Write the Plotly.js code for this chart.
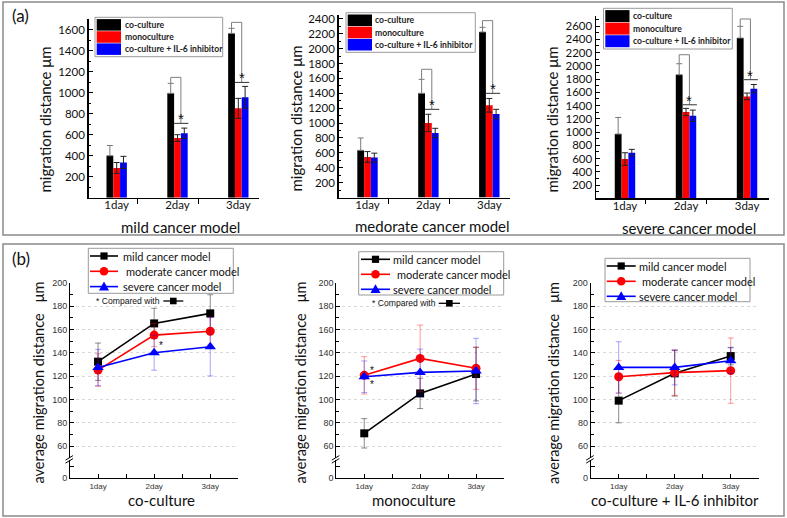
<!DOCTYPE html>
<html><head><meta charset="utf-8">
<script src="https://cdn.plot.ly/plotly-3.0.1.min.js"></script>
<style>html,body{margin:0;padding:0;background:#fff}#chart{width:787px;height:518px}</style>
</head><body><div id="chart"></div>
<script>
// ---------- data ----------
const categories = ['1day', '2day', '3day'];
const barSeries = ['co-culture', 'monoculture', 'co-culture + IL-6 inhibitor'];
const barModels = ['mild cancer model', 'medorate cancer model', 'severe cancer model'];
const lineSeries = ['mild cancer model', 'moderate cancer model', 'severe cancer model'];
const lineConditions = ['co-culture', 'monoculture', 'co-culture + IL-6 inhibitor'];

// (a) migration distance (um), mean and error
const mildCo = [400, 994, 1565];    const mildCoErr = [97, 95, 48];
const mildMono = [283, 568, 851];   const mildMonoErr = [52, 32, 95];
const mildIL6 = [336, 613, 956];    const mildIL6Err = [58, 50, 104];
const modCo = [634, 1400, 2224];    const modCoErr = [166, 188, 63];
const modMono = [545, 1002, 1239];  const modMonoErr = [72, 117, 92];
const modIL6 = [536, 867, 1122];    const modIL6Err = [60, 63, 63];
const sevCo = [970, 1865, 2419];    const sevCoErr = [250, 166, 176];
const sevMono = [592, 1302, 1538];  const sevMonoErr = [95, 55, 50];
const sevIL6 = [688, 1246, 1654];   const sevIL6Err = [50, 85, 63];

// significance brackets (2day, 3day): bracket top and the line over the compared bars
const mildBracketTop = [1146, 1670]; const mildSigLine = [708, 1098];
const modBracketTop = [1723, 2377];  const modSigLine = [1185, 1400];
const sevBracketTop = [2167, 2706];  const sevSigLine = [1411, 1790];

// y tick labels of (a)
const mildTicks = [200, 400, 600, 800, 1000, 1200, 1400, 1600];
const modTicks = [200, 400, 600, 800, 1000, 1200, 1400, 1600, 1800, 2000, 2200, 2400];
const sevTicks = [200, 400, 600, 800, 1000, 1200, 1400, 1600, 1800, 2000, 2200, 2400, 2600];

// (b) average migration distance (um), mean and error
const coMild = [132.3, 165.1, 173.7];   const coMildErr = [16, 13, 16];
const coMod = [125.1, 155.1, 158.4];    const coModErr = [14, 10, 12];
const coSev = [127.4, 140.0, 145.1];    const coSevErr = [15.5, 15, 25];
const monoMild = [70.9, 105.1, 121.7];  const monoMildErr = [12.6, 13, 23];
const monoMod = [120.6, 135.1, 126.6];  const monoModErr = [16, 28.6, 18];
const monoSev = [119.4, 123.1, 124.3];  const monoSevErr = [13.5, 20, 28];
const il6Mild = [98.9, 122.3, 137.1];   const il6MildErr = [19, 19.5, 7.5];
const il6Mod = [119.4, 122.9, 124.6];   const il6ModErr = [14, 19.5, 28];
const il6Sev = [127.4, 127.4, 133.1];   const il6SevErr = [22, 15, 11];

const bTicks = [60, 80, 100, 120, 140, 160, 180, 200];
const bLowTicks = [0, 10];
const bLowTickText = ['0', ''];

// ---------- helpers ----------
const W = 787, H = 518;
const X = v => v / W;
const Y = v => 1 - v / H;
const catIdx = categories.map((c, i) => i);

const barColors = ['#000000', '#ff0000', '#0000ff'];
const barErrColors = ['#7a7a7a', '#222222', '#222222'];
const lineColors = ['#000000', '#ff0000', '#0000ff'];
const lineErrColors = ['rgba(0,0,0,0.45)', 'rgba(255,0,0,0.4)', 'rgba(0,0,255,0.35)'];
const lineSymbols = ['square', 'circle', 'triangle-up'];
const lineSizes = [8, 9, 10];

const barData = [
  {vals: [mildCo, mildMono, mildIL6], errs: [mildCoErr, mildMonoErr, mildIL6Err], top: mildBracketTop, sig: mildSigLine, ticks: mildTicks},
  {vals: [modCo, modMono, modIL6], errs: [modCoErr, modMonoErr, modIL6Err], top: modBracketTop, sig: modSigLine, ticks: modTicks},
  {vals: [sevCo, sevMono, sevIL6], errs: [sevCoErr, sevMonoErr, sevIL6Err], top: sevBracketTop, sig: sevSigLine, ticks: sevTicks}
];
const lineData = [
  {vals: [coMild, coMod, coSev], errs: [coMildErr, coModErr, coSevErr]},
  {vals: [monoMild, monoMod, monoSev], errs: [monoMildErr, monoModErr, monoSevErr]},
  {vals: [il6Mild, il6Mod, il6Sev], errs: [il6MildErr, il6ModErr, il6SevErr]}
];

// ---------- layout geometry (pixels) ----------
const aPos = [
  {x0: 88.7, x1: 258.7, yb: 197.7, yt: 19.2, xr: [-0.46, 2.335], yr: [0, 1700], yt_: [44, 119.5], xt_: [180, 227],
   leg: {x0: 95, x1: 222.7, y0: 17.3, y1: 56.7, sw0: 96.7, sw1: 121, tx: 122.7}},
  {x0: 338.7, x1: 510, yb: 197.5, yt: 15.2, xr: [-0.473, 2.34], yr: [0, 2450], yt_: [295.5, 119], xt_: [432, 226],
   leg: {x0: 346, x1: 475.3, y0: 12.7, y1: 52.3, sw0: 347.7, sw1: 372, tx: 373.3}},
  {x0: 596, x1: 769, yb: 198.25, yt: 16.1, xr: [-0.475, 2.36], yr: [0, 2750], yt_: [551.5, 120], xt_: [689, 227.7],
   leg: {x0: 603.5, x1: 732.3, y0: 8.3, y1: 49, sw0: 605.3, sw1: 629.5, tx: 631}}
];
const aSepTicks = [0.34, 1.34];
const bPos = [
  {x0: 70, x1: 238.3, yt_: [37.5, 383], xt_: [161.7, 500],
   leg: {x0: 88.3, x1: 233.3, y0: 248.3, y1: 293.3, rows: [256, 271.3, 286.6], l0: 90, l1: 118, tx: 120.7},
   cmp: {tx: 94, ty: 301, l0: 163.3, l1: 183.3}},
  {x0: 336.3, x1: 504, yt_: [299.5, 383], xt_: [414, 500],
   leg: {x0: 358.7, x1: 503.7, y0: 251.7, y1: 295, rows: [259.3, 274.3, 289.3], l0: 361, l1: 390, tx: 391},
   cmp: {tx: 370, ty: 303.3, l0: 438.7, l1: 460}},
  {x0: 590.7, x1: 758.7, yt_: [553, 383], xt_: [675, 500],
   leg: {x0: 605, x1: 750, y0: 258.3, y1: 301.7, rows: [266, 281.3, 296.3], l0: 606.7, l1: 635.7, tx: 636.7},
   cmp: null}
];
const bMainTop = 282.7, bMainBot = 457.7, bLowTop = 459.5, bLowBot = 478.3;

const layout = {
  width: W, height: H,
  margin: {l: 0, r: 0, t: 0, b: 0, autoexpand: false},
  paper_bgcolor: '#ffffff', plot_bgcolor: 'rgba(0,0,0,0)',
  showlegend: false, barmode: 'group', bargap: 0.665, bargroupgap: 0,
  font: {family: 'Lato, sans-serif', color: '#111'},
  shapes: [], annotations: []
};
const traces = [];
const bw = (1 - layout.bargap) / 3;

function ann(px, py, text, size, opts) {
  layout.annotations.push(Object.assign({xref: 'paper', yref: 'paper', x: X(px), y: Y(py), text: text,
    showarrow: false, xanchor: 'center', yanchor: 'middle', font: {size: size, color: '#111', family: 'Lato, sans-serif'}}, opts || {}));
}
function rectPx(x0, y0, x1, y1, style) {
  layout.shapes.push(Object.assign({type: 'rect', xref: 'paper', yref: 'paper', x0: X(x0), x1: X(x1), y0: Y(y1), y1: Y(y0), layer: 'above'}, style));
}
function linePx(x0, y0, x1, y1, color, width) {
  layout.shapes.push({type: 'line', xref: 'paper', yref: 'paper', x0: X(x0), x1: X(x1), y0: Y(y0), y1: Y(y1), layer: 'above', line: {color: color, width: width}});
}

// frames
rectPx(3, 2, 784, 235, {line: {color: '#8a8a8a', width: 1.5}, fillcolor: 'rgba(0,0,0,0)', layer: 'below'});
rectPx(3, 244, 784, 516, {line: {color: '#8a8a8a', width: 1.5}, fillcolor: 'rgba(0,0,0,0)', layer: 'below'});
ann(20, 15, '(a)', 17);
ann(21, 258, '(b)', 17);

// ---------- (a) bar panels ----------
barData.forEach((d, k) => {
  const p = aPos[k];
  const s = k === 0 ? '' : String(k + 1);
  const xa = 'x' + s, ya = 'y' + s;
  const xo = 'x' + (k + 10);
  for (let i = 0; i < 3; i++) {
    const err = i === 0
      ? {type: 'data', symmetric: false, array: d.errs[i], arrayminus: d.errs[i].map(() => 0), color: barErrColors[i], thickness: 1, width: 3}
      : {type: 'data', array: d.errs[i], color: barErrColors[i], thickness: 1, width: 3};
    traces.push({type: 'bar', name: barSeries[i], x: catIdx, y: d.vals[i], xaxis: xa, yaxis: ya,
      marker: {color: barColors[i], line: {width: 0}}, error_y: err, showlegend: false});
  }
  // empty helper trace so the tick-only overlay axis is drawn
  traces.push({type: 'scatter', x: [], y: [], xaxis: xo, yaxis: ya, showlegend: false, hoverinfo: 'skip'});
  layout['xaxis' + s] = {domain: [X(p.x0), X(p.x1)], range: p.xr, anchor: ya, showline: true, linecolor: '#000', linewidth: 1.5,
    tickmode: 'array', tickvals: catIdx, ticktext: categories, ticks: '', ticklabelstandoff: -4, showgrid: false, zeroline: false,
    tickfont: {family: 'Lato, sans-serif', size: 11.5, color: '#111'}, fixedrange: true};
  layout['xaxis' + (k + 10)] = {domain: [X(p.x0), X(p.x1)], range: p.xr, anchor: ya, overlaying: xa, showline: false,
    tickmode: 'array', tickvals: aSepTicks, showticklabels: false, ticks: 'outside', ticklen: 5, tickwidth: 1, tickcolor: '#000',
    showgrid: false, zeroline: false, fixedrange: true};
  layout['yaxis' + s] = {domain: [Y(p.yb), Y(p.yt)], range: p.yr, anchor: xa, showline: true, linecolor: '#000', linewidth: 1.5,
    tickmode: 'array', tickvals: d.ticks, ticks: 'inside', ticklen: 4, tickwidth: 1, tickcolor: '#000',
    minor: {tickmode: 'linear', tick0: 0, dtick: 100, ticks: 'inside', ticklen: 2.5, tickwidth: 1, tickcolor: '#000'},
    showgrid: false, zeroline: false, tickfont: {family: 'Lato, sans-serif', size: 11.5, color: '#111'}, fixedrange: true};
  // brackets and significance stars
  for (let j = 0; j < 2; j++) {
    const cat = j + 1;
    const xl = cat - bw, xr = cat + bw / 2;
    const lb = d.vals[0][cat] + d.errs[0][cat];
    layout.shapes.push({type: 'path', xref: xa, yref: ya, layer: 'above',
      path: `M${xl},${lb} L${xl},${d.top[j]} L${xr},${d.top[j]} L${xr},${d.sig[j]}`,
      line: {color: '#7f7f7f', width: 1}});
    layout.shapes.push({type: 'line', xref: xa, yref: ya, layer: 'above', x0: cat - bw * 0.5, x1: cat + bw * 1.6,
      y0: d.sig[j], y1: d.sig[j], line: {color: '#333', width: 1}});
    layout.annotations.push({xref: xa, yref: ya, x: xr, y: d.sig[j], text: '*', showarrow: false,
      yanchor: 'bottom', yshift: -6, font: {size: 15, family: 'Liberation Sans, Arial', color: '#111'}});
  }
  // titles
  ann(p.yt_[0], p.yt_[1], 'migration distance μm', 15, {textangle: -90});
  ann(p.xt_[0], p.xt_[1], barModels[k], 15);
  // legend box
  const L = p.leg;
  rectPx(L.x0, L.y0, L.x1, L.y1, {line: {color: '#9a9a9a', width: 1}, fillcolor: '#ffffff'});
  const rh = (L.y1 - L.y0 - 3) / 3;
  for (let i = 0; i < 3; i++) {
    const r0 = L.y0 + 1.5 + i * rh;
    rectPx(L.sw0, r0 + 0.3, L.sw1, r0 + rh - 0.3, {line: {width: 0}, fillcolor: barColors[i]});
    ann(L.tx, r0 + rh / 2, barSeries[i], 8.6, {xanchor: 'left', font: {size: 8.6, family: 'Lato, sans-serif', weight: 'bold', color: '#222'}});
  }
});

// ---------- (b) line panels ----------
const bTickVals = [0, 0.5, 1, 1.5, 2, 2.5];
const bTickText = [categories[0], '', categories[1], '', categories[2], ''];
lineData.forEach((d, k) => {
  const p = bPos[k];
  const n = k + 4;
  const xa = 'x' + n, ya = 'y' + n, yl = 'y' + (n + 3);
  for (let i = 0; i < 3; i++) {
    traces.push({type: 'scatter', mode: 'lines+markers', name: lineSeries[i], x: catIdx, y: d.vals[i], xaxis: xa, yaxis: ya,
      line: {color: lineColors[i], width: 1.6},
      marker: {symbol: lineSymbols[i], size: lineSizes[i], color: lineColors[i]},
      error_y: {type: 'data', array: d.errs[i], color: lineErrColors[i], thickness: 1, width: 3},
      showlegend: false, cliponaxis: false});
  }
  traces.push({type: 'scatter', x: [], y: [], xaxis: xa, yaxis: yl, showlegend: false, hoverinfo: 'skip'});
  const tf = {family: 'Liberation Sans, Arial', size: 9, color: '#333'};
  layout['xaxis' + n] = {domain: [X(p.x0), X(p.x1)], range: [-0.5, 2.5], anchor: yl, showline: true, linecolor: '#000', linewidth: 1,
    tickmode: 'array', tickvals: bTickVals, ticktext: bTickText, ticks: 'inside', ticklen: 4, tickwidth: 1, tickcolor: '#000',
    showgrid: false, zeroline: false, tickfont: {family: 'Liberation Sans, Arial', size: 8, color: '#333'}, fixedrange: true};
  layout['yaxis' + n] = {domain: [Y(bMainBot), Y(bMainTop)], range: [50, 200], anchor: xa, showline: true, linecolor: '#000', linewidth: 1,
    tickmode: 'array', tickvals: bTicks, ticks: 'inside', ticklen: 4, tickwidth: 1, tickcolor: '#000',
    minor: {tickmode: 'linear', tick0: 0, dtick: 10, ticks: 'inside', ticklen: 3, tickwidth: 1, tickcolor: '#000'},
    showgrid: true, gridcolor: '#d9d9d9', griddash: 'dot', gridwidth: 1, zeroline: false, tickfont: tf, fixedrange: true};
  layout['yaxis' + (n + 3)] = {domain: [Y(bLowBot), Y(bLowTop)], range: [0, (bLowBot - bLowTop) / ((bMainBot - bMainTop) / 150)], anchor: xa,
    showline: true, linecolor: '#000', linewidth: 1, tickmode: 'array', tickvals: bLowTicks, ticktext: bLowTickText,
    ticks: 'inside', ticklen: 4, tickwidth: 1, tickcolor: '#000',
    showgrid: false, zeroline: false, tickfont: tf, fixedrange: true};
  // axis break marks
  const ax = p.x0, by = (bMainBot + bLowTop) / 2;
  linePx(ax - 4.5, by + 1.5, ax + 3, by - 3, '#000', 1);
  linePx(ax - 4.5, by + 4.5, ax + 3, by, '#000', 1);
  // titles
  ann(p.yt_[0], p.yt_[1], 'average migration distance\u00a0\u00a0\u00a0μm', 14.5, {textangle: -90});
  ann(p.xt_[0], p.xt_[1], lineConditions[k], 15);
  // legend
  const L = p.leg;
  rectPx(L.x0, L.y0, L.x1, L.y1, {line: {color: '#9a9a9a', width: 1}, fillcolor: '#ffffff'});
  for (let i = 0; i < 3; i++) {
    const cy = L.rows[i], mx = (L.l0 + L.l1) / 2;
    linePx(L.l0, cy, L.l1, cy, lineColors[i], 1.6);
    if (i === 0) rectPx(mx - 3.6, cy - 3.6, mx + 3.6, cy + 3.6, {line: {width: 0}, fillcolor: lineColors[i]});
    if (i === 1) layout.shapes.push({type: 'circle', xref: 'paper', yref: 'paper', layer: 'above', x0: X(mx - 4.3), x1: X(mx + 4.3), y0: Y(cy + 4.3), y1: Y(cy - 4.3), line: {width: 0}, fillcolor: lineColors[i]});
    if (i === 2) layout.shapes.push({type: 'path', xref: 'paper', yref: 'paper', layer: 'above', line: {width: 0}, fillcolor: lineColors[i],
      path: `M${X(mx - 5)},${Y(cy + 3.8)} L${X(mx + 5)},${Y(cy + 3.8)} L${X(mx)},${Y(cy - 5)} Z`});
    ann(L.tx, cy, lineSeries[i], 11, {xanchor: 'left', xshift: i === 1 ? 3.5 : 0});
  }
  // "* Compared with" note
  if (p.cmp) {
    const c = p.cmp;
    ann(c.tx, c.ty, '* Compared with', 8.6, {xanchor: 'left', font: {size: 8.6, family: 'Liberation Sans, Arial', color: '#111'}});
    linePx(c.l0, c.ty, c.l1, c.ty, '#000', 1.3);
    const m = (c.l0 + c.l1) / 2;
    rectPx(m - 3.3, c.ty - 3.3, m + 3.3, c.ty + 3.3, {line: {width: 0}, fillcolor: '#000'});
  }
});

// significance stars in (b), anchored on data points
const starFont = {size: 10, family: 'Liberation Sans, Arial', color: '#111'};
layout.annotations.push({xref: 'x4', yref: 'y4', x: 1, y: coSev[1], text: '*', showarrow: false, xshift: 7, yshift: 7, font: starFont});
layout.annotations.push({xref: 'x5', yref: 'y5', x: 0, y: monoMod[0], text: '*', showarrow: false, xshift: 8, yshift: 5, font: starFont});
layout.annotations.push({xref: 'x5', yref: 'y5', x: 0, y: monoSev[0], text: '*', showarrow: false, xshift: 8, yshift: -8, font: starFont});

Plotly.newPlot('chart', traces, layout, {staticPlot: true, displayModeBar: false});
</script>
</body></html>
